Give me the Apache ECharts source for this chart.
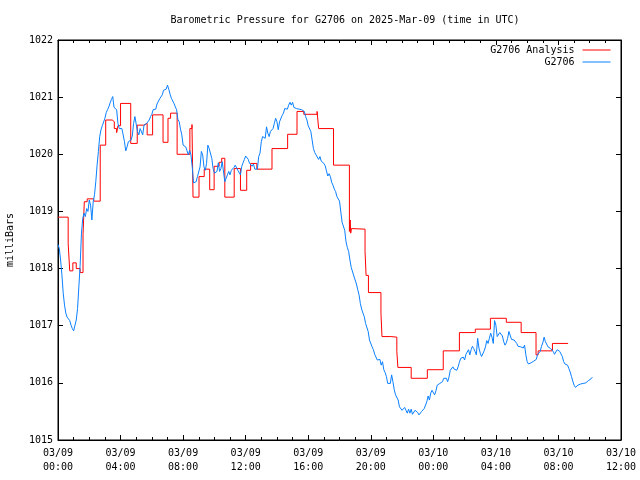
<!DOCTYPE html>
<html>
<head>
<meta charset="utf-8">
<script src="https://cdn.jsdelivr.net/npm/echarts@6/dist/echarts.min.js"></script>
<style>html,body{margin:0;padding:0;background:#fff}#c{width:640px;height:480px}</style>
</head>
<body>
<div id="c"></div>
<script>
// ---- data ----
var titleText = 'Barometric Pressure for G2706 on 2025-Mar-09 (time in UTC)';
var yAxisName = 'milliBars';
var xTickLabels = ['03/09\n00:00','03/09\n04:00','03/09\n08:00','03/09\n12:00','03/09\n16:00','03/09\n20:00','03/10\n00:00','03/10\n04:00','03/10\n08:00','03/10\n12:00'];
var seriesNames = ['G2706 Analysis', 'G2706'];

// Analysis: minutes since 03/09 00:00 UTC at which a new value starts, and that value
var analysisMinutes = [0,39,45,57,70,85,96,101,112,137,162,183,208,216,225,230,240,279,304,329,342,363,403,422,432,457,506,514,518,541,561,582,599,618,628,640,676,700,724,739,763,821,881,917,943,994,1000,1057,1118,1121,1123,1126,1133,1178,1182,1191,1239,1243,1277,1300,1304,1355,1417,1478,1540,1601,1659,1720,1777,1834,1842,1897,1957];
var analysisValues = [1018.90,1018.44,1017.96,1018.10,1018.00,1017.93,1018.60,1019.17,1019.22,1019.18,1020.16,1020.60,1020.57,1020.45,1020.38,1020.50,1020.89,1020.19,1020.51,1020.54,1020.34,1020.69,1020.21,1020.63,1020.72,1020.00,1020.45,1020.52,1019.25,1019.61,1019.74,1019.38,1019.79,1019.86,1019.93,1019.25,1019.75,1019.37,1019.72,1019.84,1019.74,1020.10,1020.35,1020.75,1020.70,1020.75,1020.45,1019.81,1018.65,1018.85,1018.62,1018.70,1018.69,1018.30,1017.88,1017.58,1017.22,1016.81,1016.80,1016.55,1016.27,1016.08,1016.23,1016.56,1016.88,1016.94,1017.13,1017.06,1016.88,1016.49,1016.56,1016.69,1016.69];

// Station observations: one value every 5 minutes starting 03/09 00:00 UTC
var obsStartMinute = 0;
var obsStepMinutes = 5;
var obsValues = [
1018.42,1018.35,1018.15,1017.89,1017.57,1017.36,1017.22,1017.15,1017.16,1017.09,
1017.01,1016.95,1016.91,1016.94,1017.10,1017.30,1017.68,1018.06,1018.62,1018.88,
1018.97,1018.91,1019.05,1019.00,1019.20,1019.11,1018.85,1019.17,1019.29,1019.52,
1019.81,1020.05,1020.31,1020.43,1020.50,1020.48,1020.63,1020.73,1020.78,1020.83,
1020.90,1020.96,1021.01,1020.82,1020.80,1020.78,1020.54,1020.45,1020.43,1020.45,
1020.34,1020.22,1020.06,1020.13,1020.22,1020.25,1020.25,1020.32,1020.54,1020.66,
1020.63,1020.40,1020.34,1020.45,1020.48,1020.34,1020.51,1020.50,1020.54,1020.57,
1020.60,1020.66,1020.70,1020.78,1020.76,1020.79,1020.88,1020.89,1020.97,1021.00,
1021.04,1021.12,1021.10,1021.14,1021.21,1021.14,1021.05,1020.98,1020.96,1020.89,
1020.83,1020.78,1020.61,1020.57,1020.44,1020.34,1020.16,1020.19,1020.13,1020.06,
1019.99,1020.07,1019.99,1019.78,1019.50,1019.49,1019.52,1019.61,1019.61,1019.78,
1020.05,1019.99,1019.78,1019.72,1019.84,1020.16,1020.10,1020.10,1019.93,1019.75,
1019.67,1019.66,1019.70,1019.85,1019.70,1019.75,1019.87,1019.84,1019.52,1019.55,
1019.64,1019.70,1019.64,1019.72,1019.74,1019.77,1019.81,1019.81,1019.72,1019.75,
1019.64,1019.79,1019.85,1019.91,1019.97,1019.96,1019.91,1019.84,1019.87,1019.79,
1019.83,1019.74,1019.75,1019.74,1019.96,1020.02,1020.22,1020.31,1020.34,1020.28,
1020.48,1020.37,1020.31,1020.40,1020.40,1020.45,1020.54,1020.63,1020.57,1020.43,
1020.57,1020.54,1020.68,1020.72,1020.80,1020.79,1020.79,1020.86,1020.91,1020.86,
1020.91,1020.82,1020.85,1020.80,1020.82,1020.79,1020.80,1020.78,1020.78,1020.75,
1020.66,1020.60,1020.50,1020.47,1020.40,1020.25,1020.10,1020.03,1019.99,1019.96,
1019.91,1019.96,1019.88,1019.91,1019.84,1019.80,1019.71,1019.62,1019.66,1019.61,
1019.51,1019.46,1019.39,1019.35,1019.26,1019.28,1019.18,1019.18,1018.81,1018.82,
1018.67,1018.47,1018.37,1018.30,1018.15,1018.02,1017.99,1017.87,1017.80,1017.73,
1017.63,1017.54,1017.39,1017.29,1017.22,1017.16,1017.04,1017.05,1016.90,1016.75,
1016.75,1016.63,1016.58,1016.50,1016.49,1016.40,1016.43,1016.41,1016.31,1016.37,
1016.23,1016.18,1016.11,1015.99,1015.99,1015.99,1016.14,1016.02,1015.88,1015.79,
1015.76,1015.70,1015.58,1015.61,1015.52,1015.54,1015.57,1015.52,1015.47,1015.54,
1015.47,1015.54,1015.45,1015.47,1015.52,1015.51,1015.48,1015.44,1015.47,1015.50,
1015.52,1015.55,1015.58,1015.67,1015.77,1015.70,1015.82,1015.87,1015.87,1015.79,
1015.86,1015.96,1015.99,1015.99,1015.99,1016.02,1016.08,1016.11,1016.08,1016.02,
1016.10,1016.22,1016.25,1016.28,1016.24,1016.25,1016.22,1016.28,1016.36,1016.43,
1016.44,1016.45,1016.40,1016.50,1016.51,1016.58,1016.49,1016.58,1016.64,1016.60,
1016.55,1016.49,1016.78,1016.61,1016.52,1016.46,1016.46,1016.56,1016.63,1016.74,
1016.69,1016.78,1016.87,1016.80,1016.69,1017.09,1017.01,1016.81,1016.84,1016.88,
1016.87,1016.82,1016.72,1016.66,1016.70,1016.78,1016.90,1016.91,1016.76,1016.77,
1016.75,1016.74,1016.69,1016.64,1016.66,1016.63,1016.63,1016.61,1016.66,1016.49,
1016.37,1016.33,1016.34,1016.35,1016.34,1016.38,1016.37,1016.41,1016.50,1016.52,
1016.55,1016.64,1016.70,1016.80,1016.72,1016.70,1016.63,1016.61,1016.60,1016.58,
1016.55,1016.50,1016.52,1016.58,1016.58,1016.55,1016.58,1016.46,1016.37,1016.33,
1016.36,1016.31,1016.25,1016.19,1016.11,1016.03,1015.96,1015.92,1015.92,1015.96,
1015.98,1015.98,1015.99,1015.99,1015.99,1016.00,1016.02,1016.04,1016.06,1016.07,
1016.10
];

var xMinHours = 0, xMaxHours = 36, xStepHours = 4;
var yMin = 1015, yMax = 1022, yStep = 1;

// ---- build ----
var analysisData = analysisMinutes.map(function (m, i) { return [m / 60, analysisValues[i]]; });
var obsData = obsValues.map(function (v, i) { return [(obsStartMinute + i * obsStepMinutes) / 60, v]; });

var FONT = 'DejaVu Sans Mono';
var txt = { fontFamily: FONT, fontSize: 10, color: '#000' };

function xAxisCfg(pos, labels) {
  return {
    type: 'value', position: pos, min: xMinHours, max: xMaxHours, interval: xStepHours,
    axisLine: { show: true, onZero: false, lineStyle: { color: '#000', width: 1 } },
    axisTick: { show: true, inside: true, length: 5, lineStyle: { color: '#000' } },
    minorTick: { show: true, splitNumber: 4, length: 3, lineStyle: { color: '#000' } },
    splitLine: { show: false },
    axisLabel: labels ? {
      show: true, margin: 6, fontFamily: FONT, fontSize: 10, color: '#000', lineHeight: 14,
      formatter: function (v) { return xTickLabels[Math.round((v - xMinHours) / xStepHours)] || ''; }
    } : { show: false }
  };
}
function yAxisCfg(pos, labels) {
  var c = {
    type: 'value', position: pos, min: yMin, max: yMax, interval: yStep,
    axisLine: { show: true, onZero: false, lineStyle: { color: '#000', width: 1 } },
    axisTick: { show: true, inside: true, length: 5, lineStyle: { color: '#000' } },
    splitLine: { show: false },
    axisLabel: labels ? { show: true, margin: 5, fontFamily: FONT, fontSize: 10, color: '#000',
      formatter: function (v) { return String(v); } } : { show: false }
  };
  if (labels) {
    c.name = yAxisName; c.nameLocation = 'middle'; c.nameRotate = 90; c.nameGap = 43;
    c.nameTextStyle = txt;
  }
  return c;
}

var chart = echarts.init(document.getElementById('c'), null, { renderer: 'canvas' });
chart.setOption({
  animation: false,
  backgroundColor: '#fff',
  title: { text: titleText, left: 340, top: 10, textAlign: 'center', textStyle: { fontFamily: FONT, fontSize: 10, fontWeight: 'normal', color: '#000' } },
  legend: {
    data: seriesNames, orient: 'vertical', right: 24, top: 40, align: 'right',
    itemWidth: 28, itemHeight: 10, itemGap: 2,
    itemStyle: { opacity: 0 },
    lineStyle: { width: 1 },
    textStyle: { fontFamily: FONT, fontSize: 10, color: '#000', padding: [0, 3, 0, 0] }
  },
  grid: { left: 58, right: 19, top: 40, bottom: 40, containLabel: false, outerBoundsMode: 'none', show: true, borderColor: '#000', borderWidth: 1 },
  xAxis: [xAxisCfg('bottom', true), xAxisCfg('top', false)],
  yAxis: [yAxisCfg('left', true), yAxisCfg('right', false)],
  series: [
    { name: seriesNames[0], type: 'line', data: analysisData, step: 'end', symbol: 'none', color: '#ff0000', lineStyle: { width: 1, color: '#ff0000' }, z: 2 },
    { name: seriesNames[1], type: 'line', data: obsData, symbol: 'none', color: '#0a80ff', lineStyle: { width: 1, color: '#0a80ff' }, z: 3 }
  ]
});
</script>
</body>
</html>
